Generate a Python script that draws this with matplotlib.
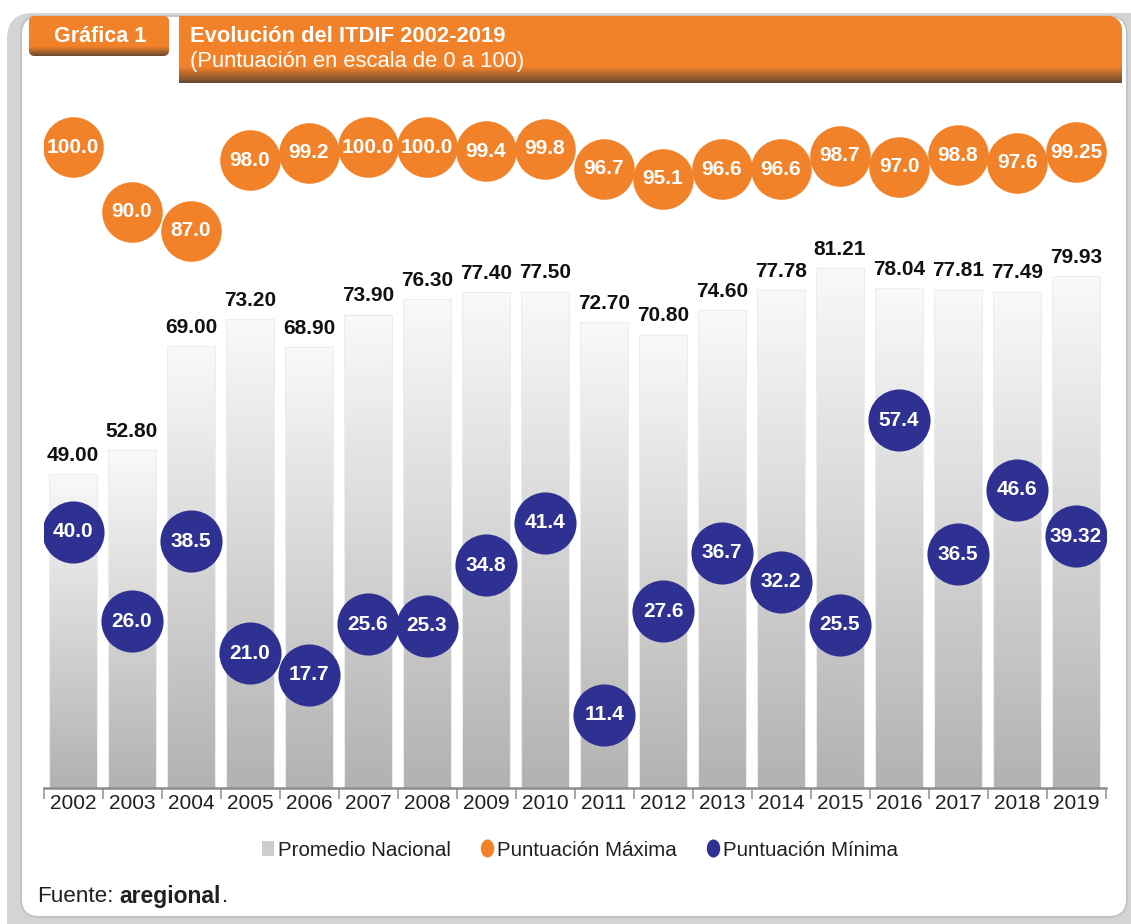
import numpy as np
import matplotlib
matplotlib.use("Agg")
import matplotlib.pyplot as plt
from matplotlib.patches import FancyBboxPatch, Patch, PathPatch
from matplotlib.lines import Line2D
from matplotlib.path import Path
from matplotlib.colors import LinearSegmentedColormap

plt.rcParams['font.family'] = ['Liberation Sans', 'DejaVu Sans']

# datos del ITDIF 2002-2019
anios = ['2002', '2003', '2004', '2005', '2006', '2007', '2008', '2009', '2010',
         '2011', '2012', '2013', '2014', '2015', '2016', '2017', '2018', '2019']
promedio = [49.00, 52.80, 69.00, 73.20, 68.90, 73.90, 76.30, 77.40, 77.50,
            72.70, 70.80, 74.60, 77.78, 81.21, 78.04, 77.81, 77.49, 79.93]
maxima = [100.0, 90.0, 87.0, 98.0, 99.2, 100.0, 100.0, 99.4, 99.8,
          96.7, 95.1, 96.6, 96.6, 98.7, 97.0, 98.8, 97.6, 99.25]
minima = [40.0, 26.0, 38.5, 21.0, 17.7, 25.6, 25.3, 34.8, 41.4,
          11.4, 27.6, 36.7, 32.2, 25.5, 57.4, 36.5, 46.6, 39.32]
lbl_max = ['100.0', '90.0', '87.0', '98.0', '99.2', '100.0', '100.0', '99.4', '99.8',
           '96.7', '95.1', '96.6', '96.6', '98.7', '97.0', '98.8', '97.6', '99.25']
lbl_min = ['40.0', '26.0', '38.5', '21.0', '17.7', '25.6', '25.3', '34.8', '41.4',
           '11.4', '27.6', '36.7', '32.2', '25.5', '57.4', '36.5', '46.6', '39.32']

naranja = '#f2822a'
azul = '#2e3192'
texto = '#231f20'

W, H = 1131, 924
fig = plt.figure(figsize=(W / 100, H / 100), dpi=100)

# fondo en coordenadas de pixel (y hacia abajo)
bg = fig.add_axes([0, 0, 1, 1], zorder=-1)
bg.set_xlim(0, W)
bg.set_ylim(H, 0)
bg.axis('off')
bg.add_patch(FancyBboxPatch((7, 13), 1160, 950, boxstyle='round,pad=0,rounding_size=26',
                            fc='#d3d4d6', ec='none'))
bg.add_patch(FancyBboxPatch((21, 16), 1106, 901, boxstyle='round,pad=0,rounding_size=18',
                            fc='white', ec='#c3c4c6', lw=1.5))

# cabecera con sombreado inferior
cab = LinearSegmentedColormap.from_list('cab', [(0, naranja), (0.76, naranja), (1, '#6a4a30')])
grad = np.linspace(0, 1, 200).reshape(-1, 1)

caja = FancyBboxPatch((29, 16), 140, 40, boxstyle='round,pad=0,rounding_size=6',
                      fc=naranja, ec='none')
bg.add_patch(caja)
im = bg.imshow(grad, cmap=cab, extent=(29, 169, 56, 16), aspect='auto', zorder=2)
im.set_clip_path(caja)

x0, x1, y0, y1, r = 179, 1122, 16, 83, 16
banda = PathPatch(Path([(x0, y0), (x1 - r, y0), (x1, y0), (x1, y0 + r), (x1, y1), (x0, y1), (x0, y0)],
                       [Path.MOVETO, Path.LINETO, Path.CURVE3, Path.CURVE3, Path.LINETO,
                        Path.LINETO, Path.CLOSEPOLY]), fc=naranja, ec='none')
bg.add_patch(banda)
im2 = bg.imshow(grad, cmap=cab, extent=(x0, x1, y1, y0), aspect='auto', zorder=2)
im2.set_clip_path(banda)

bg.text(100, 36, 'Gráfica 1', color='white', fontsize=15.5, fontweight='bold',
        ha='center', va='center', zorder=3)
bg.text(190, 36, 'Evolución del ITDIF 2002-2019', color='white', fontsize=15.8,
        fontweight='bold', ha='left', va='center', zorder=3)
bg.text(190, 61, '(Puntuación en escala de 0 a 100)', color='white', fontsize=15.8,
        ha='left', va='center', zorder=3)

# fuente
bg.text(37, 896, 'Fuente:', fontsize=16.2, color=texto, va='center')
bg.text(119, 896, 'aregional', fontsize=16.5, fontweight='bold', color=texto, va='center')
bg.text(222, 896, '.', fontsize=16.2, color=texto, va='center')

# grafica principal
ax = fig.add_axes([43.5 / W, 136 / H, 1062 / W, 688 / H])
ax.patch.set_alpha(0)
x = np.arange(len(anios))
ancho = 0.82

gris = LinearSegmentedColormap.from_list('gris', ['#b2b2b2', '#f9f9f9'])
ax.bar(x, promedio, width=ancho, color='none', edgecolor='#ededed', lw=0.8, zorder=2)
for xi, h in zip(x, promedio):
    ax.imshow(np.linspace(1, 0, 100).reshape(-1, 1), cmap=gris,
              extent=(xi - ancho / 2, xi + ancho / 2, 0, h), aspect='auto', zorder=1)
    ax.annotate(f'{h:.2f}', (xi, h), xytext=(0, 9.5), textcoords='offset points',
                ha='center', va='baseline', fontsize=15, fontweight='bold', color='#111111',
                zorder=5)

ax.scatter(x, maxima, s=1900, color=naranja, zorder=3, linewidths=0)
ax.scatter(x, minima, s=2000, color=azul, zorder=3, linewidths=0)
for xi, v, t in zip(x, maxima, lbl_max):
    ax.text(xi, v, t, ha='center', va='center', color='white', fontsize=15,
            fontweight='bold', zorder=4)
for xi, v, t in zip(x, minima, lbl_min):
    ax.text(xi, v, t, ha='center', va='center', color='white', fontsize=15,
            fontweight='bold', zorder=4)

ax.set_xlim(-0.5, len(anios) - 0.5)
ax.set_ylim(0, 688 / 6.405)
ax.set_yticks([])
ax.set_xticks(x)
ax.set_xticklabels(anios, fontsize=15, color=texto)
ax.set_xticks(np.arange(-0.5, len(anios)), minor=True)
ax.tick_params(axis='x', which='major', length=0, pad=4)
ax.tick_params(axis='x', which='minor', length=8, color='#9a9a9a', width=1.2)
for s in ['top', 'right', 'left']:
    ax.spines[s].set_visible(False)
ax.spines['bottom'].set_color('#8c8c8c')
ax.spines['bottom'].set_linewidth(1.8)

# leyenda
elipse = Path.unit_circle()
elipse = Path(elipse.vertices * np.array([0.72, 1.0]), elipse.codes)
handles = [Patch(facecolor='#cdcdcd', edgecolor='none'),
           Line2D([], [], ls='none', marker=elipse, markersize=12, color=naranja),
           Line2D([], [], ls='none', marker=elipse, markersize=12, color=azul)]
labels = ['Promedio Nacional', 'Puntuación Máxima', 'Puntuación Mínima']
fig.legend(handles, labels, loc='center', bbox_to_anchor=(580 / W, 1 - 850 / H), ncol=3,
           frameon=False, fontsize=14.8, handlelength=0.55, handleheight=0.75,
           handletextpad=0.2, columnspacing=1.5, labelcolor=texto)

fig.savefig('out.png', dpi=100)
